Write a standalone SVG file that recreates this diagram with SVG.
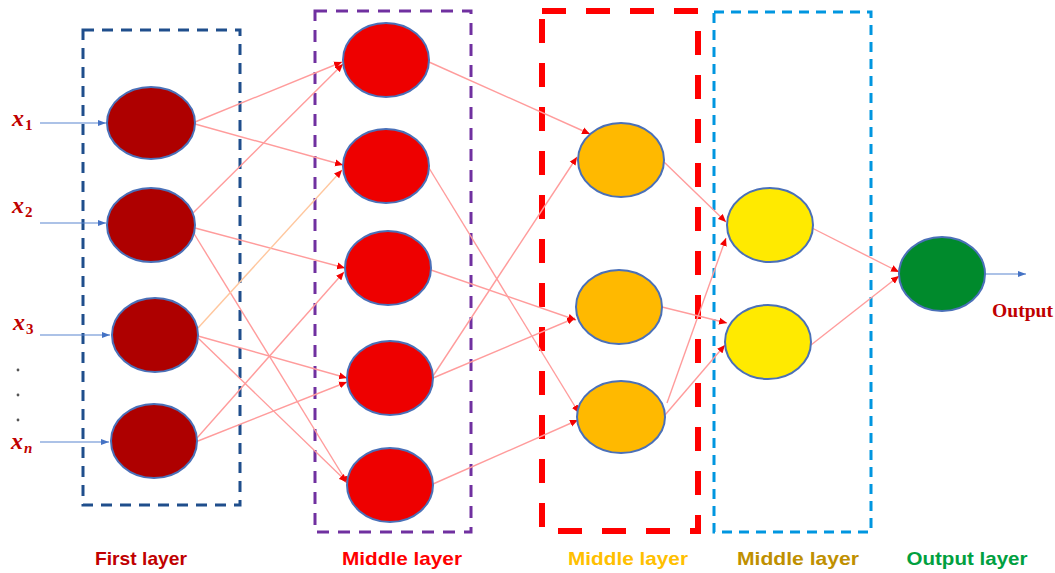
<svg xmlns="http://www.w3.org/2000/svg" width="1055" height="573" viewBox="0 0 1055 573">
<defs>
<marker id="ah" markerUnits="userSpaceOnUse" markerWidth="9" markerHeight="8" refX="8" refY="4" orient="auto">
<path d="M0,0.5 L8,4 L0,7.5 Z" fill="#F20000"/>
</marker>
<marker id="ahb" markerUnits="userSpaceOnUse" markerWidth="9" markerHeight="8" refX="8" refY="4" orient="auto">
<path d="M0,1 L8,4 L0,7 Z" fill="#4472C4"/>
</marker>
<style>
.nd{stroke:#4A70B8;stroke-width:2}
.l1{fill:#AE0000}
.m1{fill:#EE0000}
.m2{fill:#FFB900}
.m3{fill:#FFEA00}
.out{fill:#008A2C}
.cn{stroke:#FF9C9C;stroke-width:1.4;fill:none;marker-end:url(#ah)}
.cno{stroke:#FFC79E;stroke-width:1.4;fill:none;marker-end:url(#ah)}
.in{stroke:#5B86CF;stroke-width:1.2;fill:none;marker-end:url(#ahb)}
.box{fill:none}
.xl{font-family:"Liberation Serif",serif;font-style:italic;font-weight:bold;font-size:24px;fill:#C00000}
.sub{font-size:15px;font-style:normal}
.lab{font-family:"Liberation Sans",Arial,sans-serif;font-weight:bold;font-size:19px;text-anchor:middle}
</style>
</defs>
<rect width="1055" height="573" fill="#FFFFFF"/>

<g id="boxes">
<rect id="box-first" class="box" x="83" y="30" width="157" height="475" stroke="#1F4E8C" stroke-width="3" stroke-dasharray="11 8"/>
<rect id="box-middle1" class="box" x="315" y="11" width="156" height="521" stroke="#7030A0" stroke-width="3" stroke-dasharray="12 9"/>
<rect id="box-middle2" class="box" x="542" y="11" width="156" height="520" stroke="#FF0000" stroke-width="6" stroke-dasharray="24 20"/>
<rect id="box-middle3" class="box" x="714" y="12" width="157" height="520" stroke="#0096E0" stroke-width="3" stroke-dasharray="10 7"/>
</g>

<g id="connectors">
<line class="in" x1="40" y1="123" x2="106" y2="123"/>
<line class="in" x1="40" y1="223" x2="106" y2="223"/>
<line class="in" x1="40" y1="335" x2="110" y2="335"/>
<line class="in" x1="40" y1="442" x2="109" y2="442"/>
<line class="in" x1="986" y1="274" x2="1026" y2="274"/>

<line class="cn" x1="195" y1="122" x2="342" y2="62"/>
<line class="cn" x1="195" y1="124" x2="343" y2="165"/>
<line class="cn" x1="193" y1="213" x2="343" y2="64"/>
<line class="cn" x1="195" y1="228" x2="345" y2="268"/>
<line class="cn" x1="193" y1="232" x2="348" y2="484"/>
<line class="cno" x1="198" y1="328" x2="342" y2="170"/>
<line class="cn" x1="198" y1="336" x2="347" y2="378"/>
<line class="cn" x1="198" y1="338" x2="347" y2="482"/>
<line class="cn" x1="197" y1="438" x2="344" y2="272"/>
<line class="cn" x1="198" y1="441" x2="347" y2="382"/>

<line class="cn" x1="429" y1="62" x2="590" y2="134"/>
<line class="cn" x1="429" y1="168" x2="579" y2="413"/>
<line class="cn" x1="431" y1="270" x2="576" y2="320"/>
<line class="cn" x1="433" y1="376" x2="577" y2="157"/>
<line class="cn" x1="433" y1="378" x2="575" y2="318"/>
<line class="cn" x1="433" y1="484" x2="578" y2="420"/>

<line class="cn" x1="664" y1="162" x2="726" y2="222"/>
<line class="cn" x1="662" y1="307" x2="727" y2="323"/>
<line class="cn" x1="667" y1="403" x2="726" y2="238"/>
<line class="cn" x1="665" y1="415" x2="725" y2="345"/>
<line class="cn" x1="812" y1="228" x2="899" y2="272"/>
<line class="cn" x1="811" y1="345" x2="899" y2="276"/>
</g>

<g id="first-layer">
<ellipse id="a1" class="nd l1" cx="151" cy="123" rx="44" ry="36"/>
<ellipse id="a2" class="nd l1" cx="151" cy="225" rx="44" ry="37"/>
<ellipse id="a3" class="nd l1" cx="155" cy="335" rx="43" ry="37"/>
<ellipse id="a4" class="nd l1" cx="154" cy="441" rx="43" ry="37"/>
</g>
<g id="middle-layer-1">
<ellipse id="b1" class="nd m1" cx="386" cy="60" rx="43" ry="37"/>
<ellipse id="b2" class="nd m1" cx="386" cy="166" rx="43" ry="37"/>
<ellipse id="b3" class="nd m1" cx="388" cy="268" rx="43" ry="37"/>
<ellipse id="b4" class="nd m1" cx="390" cy="378" rx="43" ry="37"/>
<ellipse id="b5" class="nd m1" cx="390" cy="485" rx="43" ry="37"/>
</g>
<g id="middle-layer-2">
<ellipse id="c1" class="nd m2" cx="621" cy="160" rx="43" ry="37"/>
<ellipse id="c2" class="nd m2" cx="619" cy="307" rx="43" ry="37"/>
<ellipse id="c3" class="nd m2" cx="621" cy="417" rx="44" ry="36"/>
</g>
<g id="middle-layer-3">
<ellipse id="d1" class="nd m3" cx="770" cy="225" rx="43" ry="37"/>
<ellipse id="d2" class="nd m3" cx="768" cy="342" rx="43" ry="37"/>
</g>
<g id="output-layer">
<ellipse id="e1" class="nd out" cx="942" cy="274" rx="43" ry="37"/>
</g>

<g id="inputs">
<text class="xl" x="12" y="126">x<tspan class="sub" dx="1" dy="4">1</tspan></text>
<text class="xl" x="12" y="213">x<tspan class="sub" dx="1" dy="4">2</tspan></text>
<text class="xl" x="13" y="330">x<tspan class="sub" dx="1" dy="4">3</tspan></text>
<text class="xl" x="11" y="449">x<tspan class="sub" dx="1" dy="4" style="font-style:italic">n</tspan></text>
<circle cx="18" cy="370" r="1.4" fill="#555"/>
<circle cx="18" cy="395" r="1.4" fill="#555"/>
<circle cx="18" cy="420" r="1.4" fill="#555"/>
<text x="992" y="317" font-family="Liberation Serif,serif" font-weight="bold" font-size="19" fill="#C00000" textLength="61" lengthAdjust="spacingAndGlyphs">Output</text>
</g>

<g id="labels">
<text class="lab" x="141" y="565" fill="#C00000" textLength="92" lengthAdjust="spacingAndGlyphs">First layer</text>
<text class="lab" x="402" y="565" fill="#FF0000" textLength="120" lengthAdjust="spacingAndGlyphs">Middle layer</text>
<text class="lab" x="628" y="565" fill="#FFC000" textLength="120" lengthAdjust="spacingAndGlyphs">Middle layer</text>
<text class="lab" x="798" y="565" fill="#BF9000" textLength="122" lengthAdjust="spacingAndGlyphs">Middle layer</text>
<text class="lab" x="967" y="565" fill="#00A040" textLength="121" lengthAdjust="spacingAndGlyphs">Output layer</text>
</g>
</svg>
